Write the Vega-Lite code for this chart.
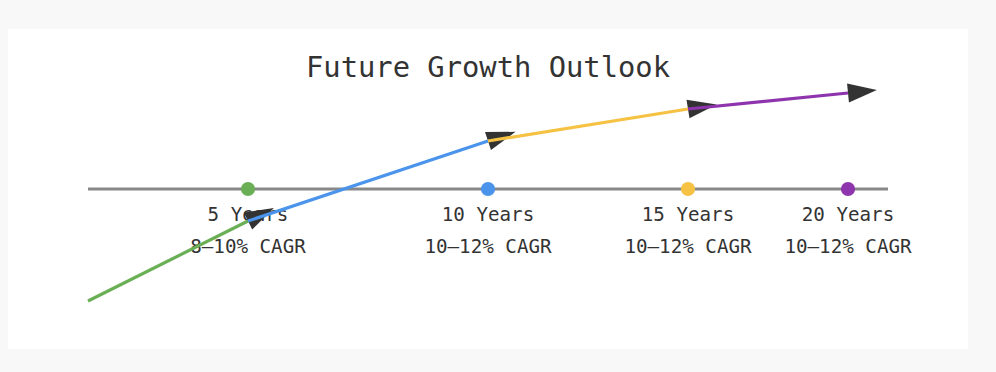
{
  "$schema": "https://vega.github.io/schema/vega-lite/v6.json",
  "width": 996,
  "height": 372,
  "autosize": {"type": "fit", "contains": "padding"},
  "padding": {"left": 8, "top": 29, "right": 28, "bottom": 23},
  "background": "#f8f8f8",
  "config": {"view": {"fill": "white", "stroke": null}},
  "datasets": {
    "heading": [{"title": "Future Growth Outlook", "cx": 300, "cy": 170}],
    "timeline": [{"start": 50, "end": 550, "level": 100}],
    "milestones": [
      {"period": "5 Years", "cagr": "8–10% CAGR", "pos": 150},
      {"period": "10 Years", "cagr": "10–12% CAGR", "pos": 300},
      {"period": "15 Years", "cagr": "10–12% CAGR", "pos": 425},
      {"period": "20 Years", "cagr": "10–12% CAGR", "pos": 525}
    ],
    "segments": [
      {"period": "5 Years", "x0": 50, "y0": 30, "x1": 150, "y1": 80},
      {"period": "10 Years", "x0": 150, "y0": 80, "x1": 300, "y1": 130},
      {"period": "15 Years", "x0": 300, "y0": 130, "x1": 425, "y1": 150},
      {"period": "20 Years", "x0": 425, "y0": 150, "x1": 525, "y1": 160}
    ]
  },
  "layer": [
    {
      "data": {"name": "heading"},
      "mark": {"type": "text", "font": "DejaVu Sans Mono", "fontSize": 28.8, "color": "#333333", "baseline": "alphabetic", "align": "center"},
      "encoding": {
        "x": {"field": "cx", "type": "quantitative", "scale": {"domain": [0, 600], "nice": false, "zero": false}, "axis": null},
        "y": {"field": "cy", "type": "quantitative", "scale": {"domain": [0, 200], "nice": false, "zero": false}, "axis": null},
        "text": {"field": "title"}
      }
    },
    {
      "data": {"name": "timeline"},
      "mark": {"type": "rule", "color": "#888888", "strokeWidth": 3.2},
      "encoding": {
        "x": {"field": "start", "type": "quantitative", "scale": {"domain": [0, 600], "nice": false, "zero": false}, "axis": null},
        "x2": {"field": "end"},
        "y": {"field": "level", "type": "quantitative", "scale": {"domain": [0, 200], "nice": false, "zero": false}, "axis": null}
      }
    },
    {
      "data": {"name": "milestones"},
      "mark": {"type": "point", "filled": true, "opacity": 1, "size": 201, "shape": "circle"},
      "encoding": {
        "x": {"field": "pos", "type": "quantitative", "scale": {"domain": [0, 600], "nice": false, "zero": false}, "axis": null},
        "y": {"datum": 100, "type": "quantitative", "scale": {"domain": [0, 200], "nice": false, "zero": false}, "axis": null},
        "color": {"field": "period", "type": "nominal", "scale": {"domain": ["5 Years", "10 Years", "15 Years", "20 Years"], "range": ["#6aaf55", "#4a94ec", "#f6c244", "#8e35ae"]}, "legend": null}
      }
    },
    {
      "data": {"name": "milestones"},
      "mark": {"type": "text", "font": "DejaVu Sans Mono", "fontSize": 19.2, "color": "#333333", "baseline": "alphabetic", "align": "center"},
      "encoding": {
        "x": {"field": "pos", "type": "quantitative", "scale": {"domain": [0, 600], "nice": false, "zero": false}, "axis": null},
        "y": {"datum": 80, "type": "quantitative", "scale": {"domain": [0, 200], "nice": false, "zero": false}, "axis": null},
        "text": {"field": "period"}
      }
    },
    {
      "data": {"name": "milestones"},
      "mark": {"type": "text", "font": "DejaVu Sans Mono", "fontSize": 19.2, "color": "#333333", "baseline": "alphabetic", "align": "center"},
      "encoding": {
        "x": {"field": "pos", "type": "quantitative", "scale": {"domain": [0, 600], "nice": false, "zero": false}, "axis": null},
        "y": {"datum": 60, "type": "quantitative", "scale": {"domain": [0, 200], "nice": false, "zero": false}, "axis": null},
        "text": {"field": "cagr"}
      }
    },
    {
      "data": {"name": "segments"},
      "transform": [
        {"calculate": "-atan2(datum.y1 - datum.y0, datum.x1 - datum.x0) * 180 / PI", "as": "angle"}
      ],
      "mark": {"type": "point", "filled": true, "opacity": 1, "color": "#333333", "size": 841, "shape": "M0,-0.65L2,0L0,0.65Z", "strokeWidth": 0},
      "encoding": {
        "x": {"field": "x1", "type": "quantitative", "scale": {"domain": [0, 600], "nice": false, "zero": false}, "axis": null},
        "y": {"field": "y1", "type": "quantitative", "scale": {"domain": [0, 200], "nice": false, "zero": false}, "axis": null},
        "angle": {"field": "angle", "type": "quantitative", "scale": null}
      }
    },
    {
      "data": {"name": "segments"},
      "mark": {"type": "rule", "strokeWidth": 3.2, "strokeCap": "butt"},
      "encoding": {
        "x": {"field": "x0", "type": "quantitative", "scale": {"domain": [0, 600], "nice": false, "zero": false}, "axis": null},
        "x2": {"field": "x1"},
        "y": {"field": "y0", "type": "quantitative", "scale": {"domain": [0, 200], "nice": false, "zero": false}, "axis": null},
        "y2": {"field": "y1"},
        "color": {"field": "period", "type": "nominal", "scale": {"domain": ["5 Years", "10 Years", "15 Years", "20 Years"], "range": ["#6aaf55", "#4a94ec", "#f6c244", "#8e35ae"]}, "legend": null}
      }
    }
  ]
}
